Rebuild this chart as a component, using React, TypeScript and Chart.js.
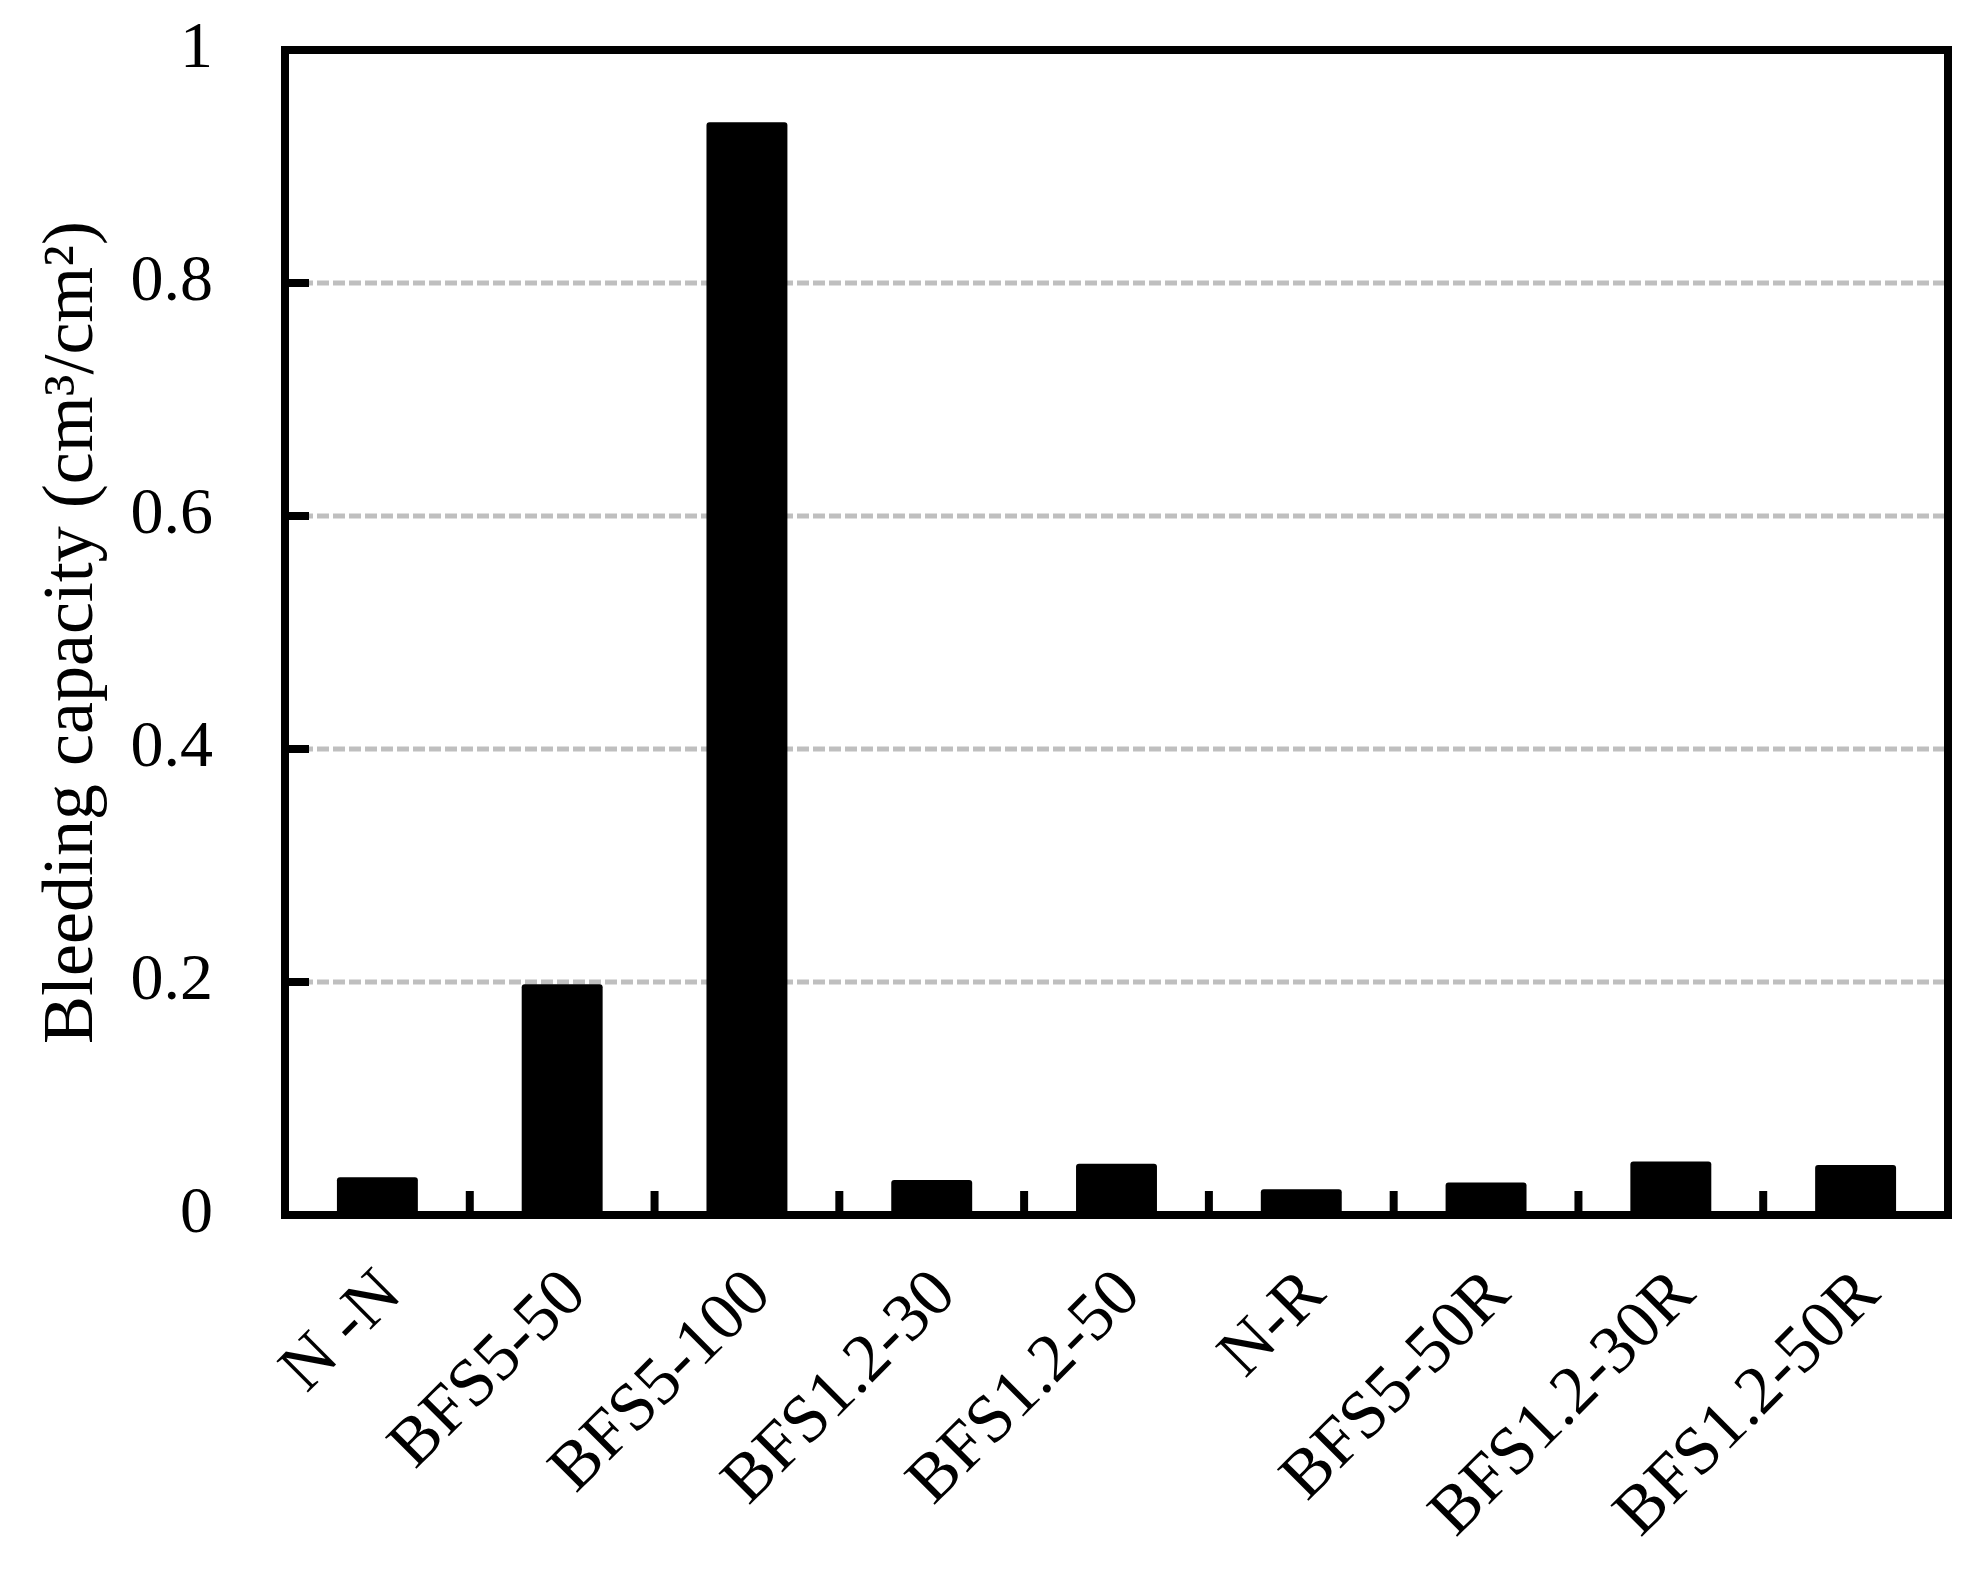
import React, { useEffect, useRef } from "react";
import { Chart, registerables } from "chart.js";

Chart.register(...registerables);

const categories = [
  "N -N",
  "BFS5-50",
  "BFS5-100",
  "BFS1.2-30",
  "BFS1.2-50",
  "N-R",
  "BFS5-50R",
  "BFS1.2-30R",
  "BFS1.2-50R",
];

const bleedingValues = [0.0325, 0.198, 0.938, 0.03, 0.044, 0.022, 0.028, 0.046, 0.043];

const yTicks = [0, 0.2, 0.4, 0.6, 0.8, 1];
const yGridValues = [0.2, 0.4, 0.6, 0.8];

const yTitle = "Bleeding capacity (cm\u00B3/cm\u00B2)";

const FONT = "'Liberation Serif', 'Times New Roman', serif";

const framePlugin = {
  id: "framePlugin",
  beforeDatasetsDraw(chart: any) {
    const { ctx, chartArea } = chart;
    const y = chart.scales.y;
    ctx.save();
    ctx.strokeStyle = "#BFBFBF";
    ctx.lineWidth = 5;
    ctx.setLineDash([12, 4]);
    for (const v of yGridValues) {
      const py = y.getPixelForValue(v);
      ctx.beginPath();
      ctx.moveTo(chartArea.left, py);
      ctx.lineTo(chartArea.right, py);
      ctx.stroke();
    }
    ctx.restore();
  },
  afterDatasetsDraw(chart: any) {
    const { ctx, chartArea } = chart;
    const x = chart.scales.x;
    const y = chart.scales.y;
    ctx.save();
    ctx.strokeStyle = "#000";
    ctx.lineWidth = 8;
    ctx.lineJoin = "miter";
    ctx.setLineDash([]);
    for (const v of yGridValues) {
      const py = y.getPixelForValue(v);
      ctx.beginPath();
      ctx.moveTo(chartArea.left, py);
      ctx.lineTo(chartArea.left + 24, py);
      ctx.stroke();
    }
    for (let i = 0; i < categories.length - 1; i++) {
      const px = (x.getPixelForValue(i) + x.getPixelForValue(i + 1)) / 2;
      ctx.beginPath();
      ctx.moveTo(px, chartArea.bottom);
      ctx.lineTo(px, chartArea.bottom - 24);
      ctx.stroke();
    }
    ctx.strokeRect(
      chartArea.left,
      chartArea.top,
      chartArea.right - chartArea.left,
      chartArea.bottom - chartArea.top
    );
    ctx.restore();
  },
};

export default function App() {
  const canvasRef = useRef<HTMLCanvasElement | null>(null);

  useEffect(() => {
    if (!canvasRef.current) return;
    const chart = new Chart(canvasRef.current, {
      type: "bar",
      data: {
        labels: categories,
        datasets: [
          {
            data: bleedingValues,
            backgroundColor: "#000000",
            borderWidth: 0,
            borderRadius: 3,
            borderSkipped: "bottom",
            categoryPercentage: 1,
            barPercentage: 0.438,
          },
        ],
      },
      options: {
        responsive: false,
        animation: false,
        devicePixelRatio: 1,
        layout: { padding: { top: 50, right: 39, left: 0, bottom: 0 } },
        plugins: {
          legend: { display: false },
          tooltip: { enabled: false },
        },
        scales: {
          x: {
            grid: {
              display: true,
              drawOnChartArea: false,
              drawTicks: true,
              tickLength: 40,
              color: "rgba(0,0,0,0)",
              tickColor: "rgba(0,0,0,0)",
            },
            border: { display: false },
            ticks: {
              color: "#000",
              font: { family: FONT, size: 68 },
              maxRotation: 45,
              minRotation: 45,
              padding: 0,
              labelOffset: 14,
              autoSkip: false,
            },
            afterFit(scale: any) {
              scale.height = 356;
            },
          },
          y: {
            min: 0,
            max: 1,
            afterBuildTicks(scale: any) {
              scale.ticks = yTicks.map((v) => ({ value: v }));
            },
            grid: {
              display: true,
              drawOnChartArea: false,
              drawTicks: true,
              tickLength: 72,
              color: "rgba(0,0,0,0)",
              tickColor: "rgba(0,0,0,0)",
            },
            border: { display: false },
            ticks: {
              color: "#000",
              font: { family: FONT, size: 66 },
              padding: 0,
              callback: (v: any) => String(v),
            },
            title: {
              display: true,
              text: yTitle,
              color: "#000",
              font: { family: FONT, size: 72, weight: "normal" },
              padding: { top: 30, bottom: 0 },
            },
            afterFit(scale: any) {
              scale.width = 285;
            },
          },
        },
      },
      plugins: [framePlugin],
    });
    return () => chart.destroy();
  }, []);

  return (
    <div style={{ position: "absolute", left: 0, top: 0, width: 1987, height: 1571, background: "#fff" }}>
      <canvas ref={canvasRef} width={1987} height={1571} style={{ width: 1987, height: 1571 }} />
    </div>
  );
}
